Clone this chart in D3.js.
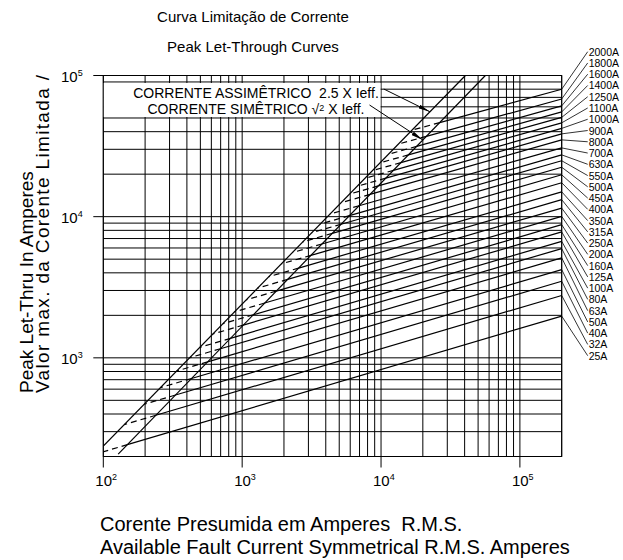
<!DOCTYPE html>
<html>
<head>
<meta charset="utf-8">
<script src="https://cdn.jsdelivr.net/npm/d3@7"></script>
<style>
  body { margin: 0; background: #fff; }
  text { font-family: "Liberation Sans", Arial, sans-serif; fill: #000; white-space: pre; }
</style>
</head>
<body>
<div id="chart"></div>
<script>
// fuse ratings, top to bottom on the right side
const ratings = ['2000A','1800A','1600A','1400A','1250A','1100A','1000A','900A','800A','700A',
  '630A','550A','500A','450A','400A','350A','315A','250A','200A','160A','125A','100A',
  '80A','63A','50A','40A','32A','25A'];

// peak let-through (A) at the right edge of the chart (200 kA prospective)
const peakAtEdge = [79900, 68200, 60900, 55200, 50500, 46200, 42200, 38600, 35000, 30700,
  27400, 24900, 22400, 19800, 17400, 15000, 13200, 11500, 10050, 8780, 7800, 6690,
  5940, 5110, 4220, 3490, 2765, 1975];

// prospective current (A) where each fuse curve leaves the symmetric line
const startCurrent = [26450, 21200, 18050, 15740, 13900, 12270, 10820, 9550, 8330, 6940,
  5920, 5160, 4455, 3753, 3130, 2550, 2125, 1760, 1453, 1203, 1019, 823,
  697, 564, 432, 331, 239, 149];

// the two reference lines [prospective, peak]
const asymLine = [[100, 237], [40500, 100000]];
const symLine = [[128, 208], [56400, 100000]];

const xTicks = [100, 1000, 10000, 100000];
const xTickExp = ['2', '3', '4', '5'];
const yTicks = [1000, 10000, 100000];
const yTickExp = ['3', '4', '5'];

const title = ['Curva Limitação de Corrente', 'Peak Let-Through Curves'];
const xTitle = ['Corente Presumida em Amperes  R.M.S.', 'Available Fault Current Symmetrical R.M.S. Amperes'];
const yTitle = ['Peak Let-Thru In Amperes', 'Valor max. da Corente Limitada /'];
const noteLines = ['CORRENTE ASSIMÊTRICO  2.5 X Ieff.', 'CORRENTE SIMÊTRICO ', ' X Ieff.'];

const W = 623, H = 560;
const plot = {left: 103.3, right: 561.7, top: 75.5, bottom: 456.5};

const svg = d3.select('#chart').append('svg')
  .attr('width', W).attr('height', H);

const x = d3.scaleLog().domain([100, 200000]).range([plot.left, plot.right]);
const y = d3.scaleLog().domain([200, 100000]).range([plot.bottom, plot.top]);

// log-log interpolation along a two point line
function onLine(line, I) {
  const [[x0, y0], [x1, y1]] = line;
  const t = (Math.log10(I) - Math.log10(x0)) / (Math.log10(x1) - Math.log10(x0));
  return Math.pow(10, Math.log10(y0) + t * (Math.log10(y1) - Math.log10(y0)));
}

svg.append('clipPath').attr('id', 'clip')
  .append('rect')
  .attr('x', plot.left).attr('y', plot.top)
  .attr('width', plot.right - plot.left).attr('height', plot.bottom - plot.top);

// grid
const grid = svg.append('g').attr('stroke', '#000').attr('stroke-width', 1);
grid.selectAll('.vx').data(x.ticks()).enter().append('line')
  .attr('x1', d => x(d)).attr('x2', d => x(d))
  .attr('y1', plot.top).attr('y2', plot.bottom);
grid.selectAll('.hy').data(y.ticks()).enter().append('line')
  .attr('y1', d => y(d)).attr('y2', d => y(d))
  .attr('x1', plot.left).attr('x2', plot.right);

// frame + ticks
grid.append('rect')
  .attr('x', plot.left).attr('y', plot.top)
  .attr('width', plot.right - plot.left).attr('height', plot.bottom - plot.top)
  .attr('fill', 'none');
grid.selectAll('.tx').data(xTicks).enter().append('line')
  .attr('x1', d => x(d)).attr('x2', d => x(d))
  .attr('y1', plot.bottom).attr('y2', plot.bottom + 11);
grid.selectAll('.ty').data(yTicks).enter().append('line')
  .attr('y1', d => y(d)).attr('y2', d => y(d))
  .attr('x1', plot.left - 10).attr('x2', plot.left);

// tick labels
const xl = svg.selectAll('.xl').data(xTicks).enter().append('text')
  .attr('x', d => x(d) - 8).attr('y', plot.bottom + 29)
  .attr('font-size', 15);
xl.append('tspan').text('10');
xl.append('tspan').attr('dy', -6).attr('font-size', 9).text((d, i) => xTickExp[i]);

const yl = svg.selectAll('.yl').data(yTicks).enter().append('text')
  .attr('x', 61).attr('y', d => y(d) + 6)
  .attr('font-size', 15);
yl.append('tspan').text('10');
yl.append('tspan').attr('dy', -6).attr('font-size', 9).text((d, i) => yTickExp[i]);

// note box hides the grid behind the legend text
svg.append('rect')
  .attr('x', plot.left + 0.5).attr('y', y(90000) + 1)
  .attr('width', x(10000) - plot.left - 1).attr('height', y(50000) - y(90000) - 2)
  .attr('fill', '#fff');

const curves = svg.append('g').attr('clip-path', 'url(#clip)')
  .attr('fill', 'none').attr('stroke', '#000').attr('stroke-width', 1.2);

const logLine = d3.line().x(d => x(d[0])).y(d => y(d[1]));

curves.append('path').attr('d', logLine(asymLine));
curves.append('path').attr('d', logLine(symLine));

const fuses = ratings.map((r, i) => {
  const I0 = startCurrent[i];
  const P0 = onLine(symLine, I0);
  const I1 = 200000, P1 = peakAtEdge[i];
  // slope of fuse line in log space, extended back to the asymmetric line
  const s = (Math.log10(P1) - Math.log10(P0)) / (Math.log10(I1) - Math.log10(I0));
  const a0 = Math.log10(asymLine[0][1]), b = (Math.log10(asymLine[1][1]) - a0) /
    (Math.log10(asymLine[1][0]) - Math.log10(asymLine[0][0]));
  // solve a0 + b*(lx - 2) = log P0 + s*(lx - log I0)
  const lx = (Math.log10(P0) - s * Math.log10(I0) - a0 + b * Math.log10(asymLine[0][0])) / (b - s);
  const Id = Math.pow(10, lx);
  return {rating: r, start: [I0, P0], end: [I1, P1], dash: [Id, onLine(asymLine, Id)]};
});

curves.selectAll('.fuse').data(fuses).enter().append('path')
  .attr('d', d => logLine([d.start, d.end]));
curves.selectAll('.ext').data(fuses).enter().append('path')
  .attr('stroke-dasharray', '6,4')
  .attr('d', d => logLine([d.start, d.dash]));

// right side labels with leader lines
const labTop = 51.7, labStep = (355.7 - 51.7) / (ratings.length - 1);
svg.selectAll('.lead').data(fuses).enter().append('line')
  .attr('stroke', '#000').attr('stroke-width', 0.8)
  .attr('x1', plot.right).attr('y1', d => y(d.end[1]))
  .attr('x2', plot.right + 26).attr('y2', (d, i) => labTop + i * labStep);
svg.selectAll('.lab').data(fuses).enter().append('text')
  .attr('x', plot.right + 27).attr('y', (d, i) => labTop + i * labStep + 4)
  .attr('font-size', 10.5)
  .text(d => d.rating);

// note text
const noteX = 256;
const n1 = svg.append('text').attr('x', noteX).attr('y', 97.5)
  .attr('text-anchor', 'middle').attr('font-size', 14).text(noteLines[0]);
const n2 = svg.append('text').attr('x', noteX).attr('y', 113.5)
  .attr('text-anchor', 'middle').attr('font-size', 14);
n2.append('tspan').text(noteLines[1]);
n2.append('tspan').text('√');
n2.append('tspan').attr('font-size', 9).attr('dy', -3).text('2');
n2.append('tspan').attr('dy', 3).text(noteLines[2]);

// arrows
svg.append('defs').append('marker')
  .attr('id', 'head').attr('viewBox', '0 0 12 4')
  .attr('refX', 12).attr('refY', 2)
  .attr('markerWidth', 12).attr('markerHeight', 4)
  .attr('markerUnits', 'userSpaceOnUse')
  .attr('orient', 'auto')
  .append('path').attr('d', 'M0,0 L12,2 L0,4 Z').attr('fill', '#000');

const b1 = n1.node().getBBox(), b2 = n2.node().getBBox();
const arrowTargets = [[22500, onLine(asymLine, 22500)], [20000, onLine(symLine, 20000)]];
svg.append('line').attr('stroke', '#000').attr('stroke-width', 1)
  .attr('x1', b1.x + b1.width + 5).attr('y1', 89)
  .attr('x2', x(arrowTargets[0][0])).attr('y2', y(arrowTargets[0][1]))
  .attr('marker-end', 'url(#head)');
svg.append('line').attr('stroke', '#000').attr('stroke-width', 1)
  .attr('x1', b2.x + b2.width + 5).attr('y1', 105)
  .attr('x2', x(arrowTargets[1][0])).attr('y2', y(arrowTargets[1][1]))
  .attr('marker-end', 'url(#head)');

// titles
svg.selectAll('.title').data(title).enter().append('text')
  .attr('x', 253).attr('y', (d, i) => 22 + i * 30)
  .attr('text-anchor', 'middle').attr('font-size', 15)
  .text(d => d);

svg.selectAll('.xt').data(xTitle).enter().append('text')
  .attr('x', 100).attr('y', (d, i) => 531 + i * 23)
  .attr('font-size', 20)
  .text(d => d);

// second y title line runs up to the top of the plot in the original
svg.selectAll('.yt').data(yTitle).enter().append('text')
  .attr('transform', (d, i) => `translate(${33 + i * 16},393) rotate(-90)`)
  .attr('font-size', 19)
  .attr('textLength', (d, i) => i === 1 ? 318 : null)
  .attr('lengthAdjust', 'spacing')
  .text(d => d);
</script>
</body>
</html>
